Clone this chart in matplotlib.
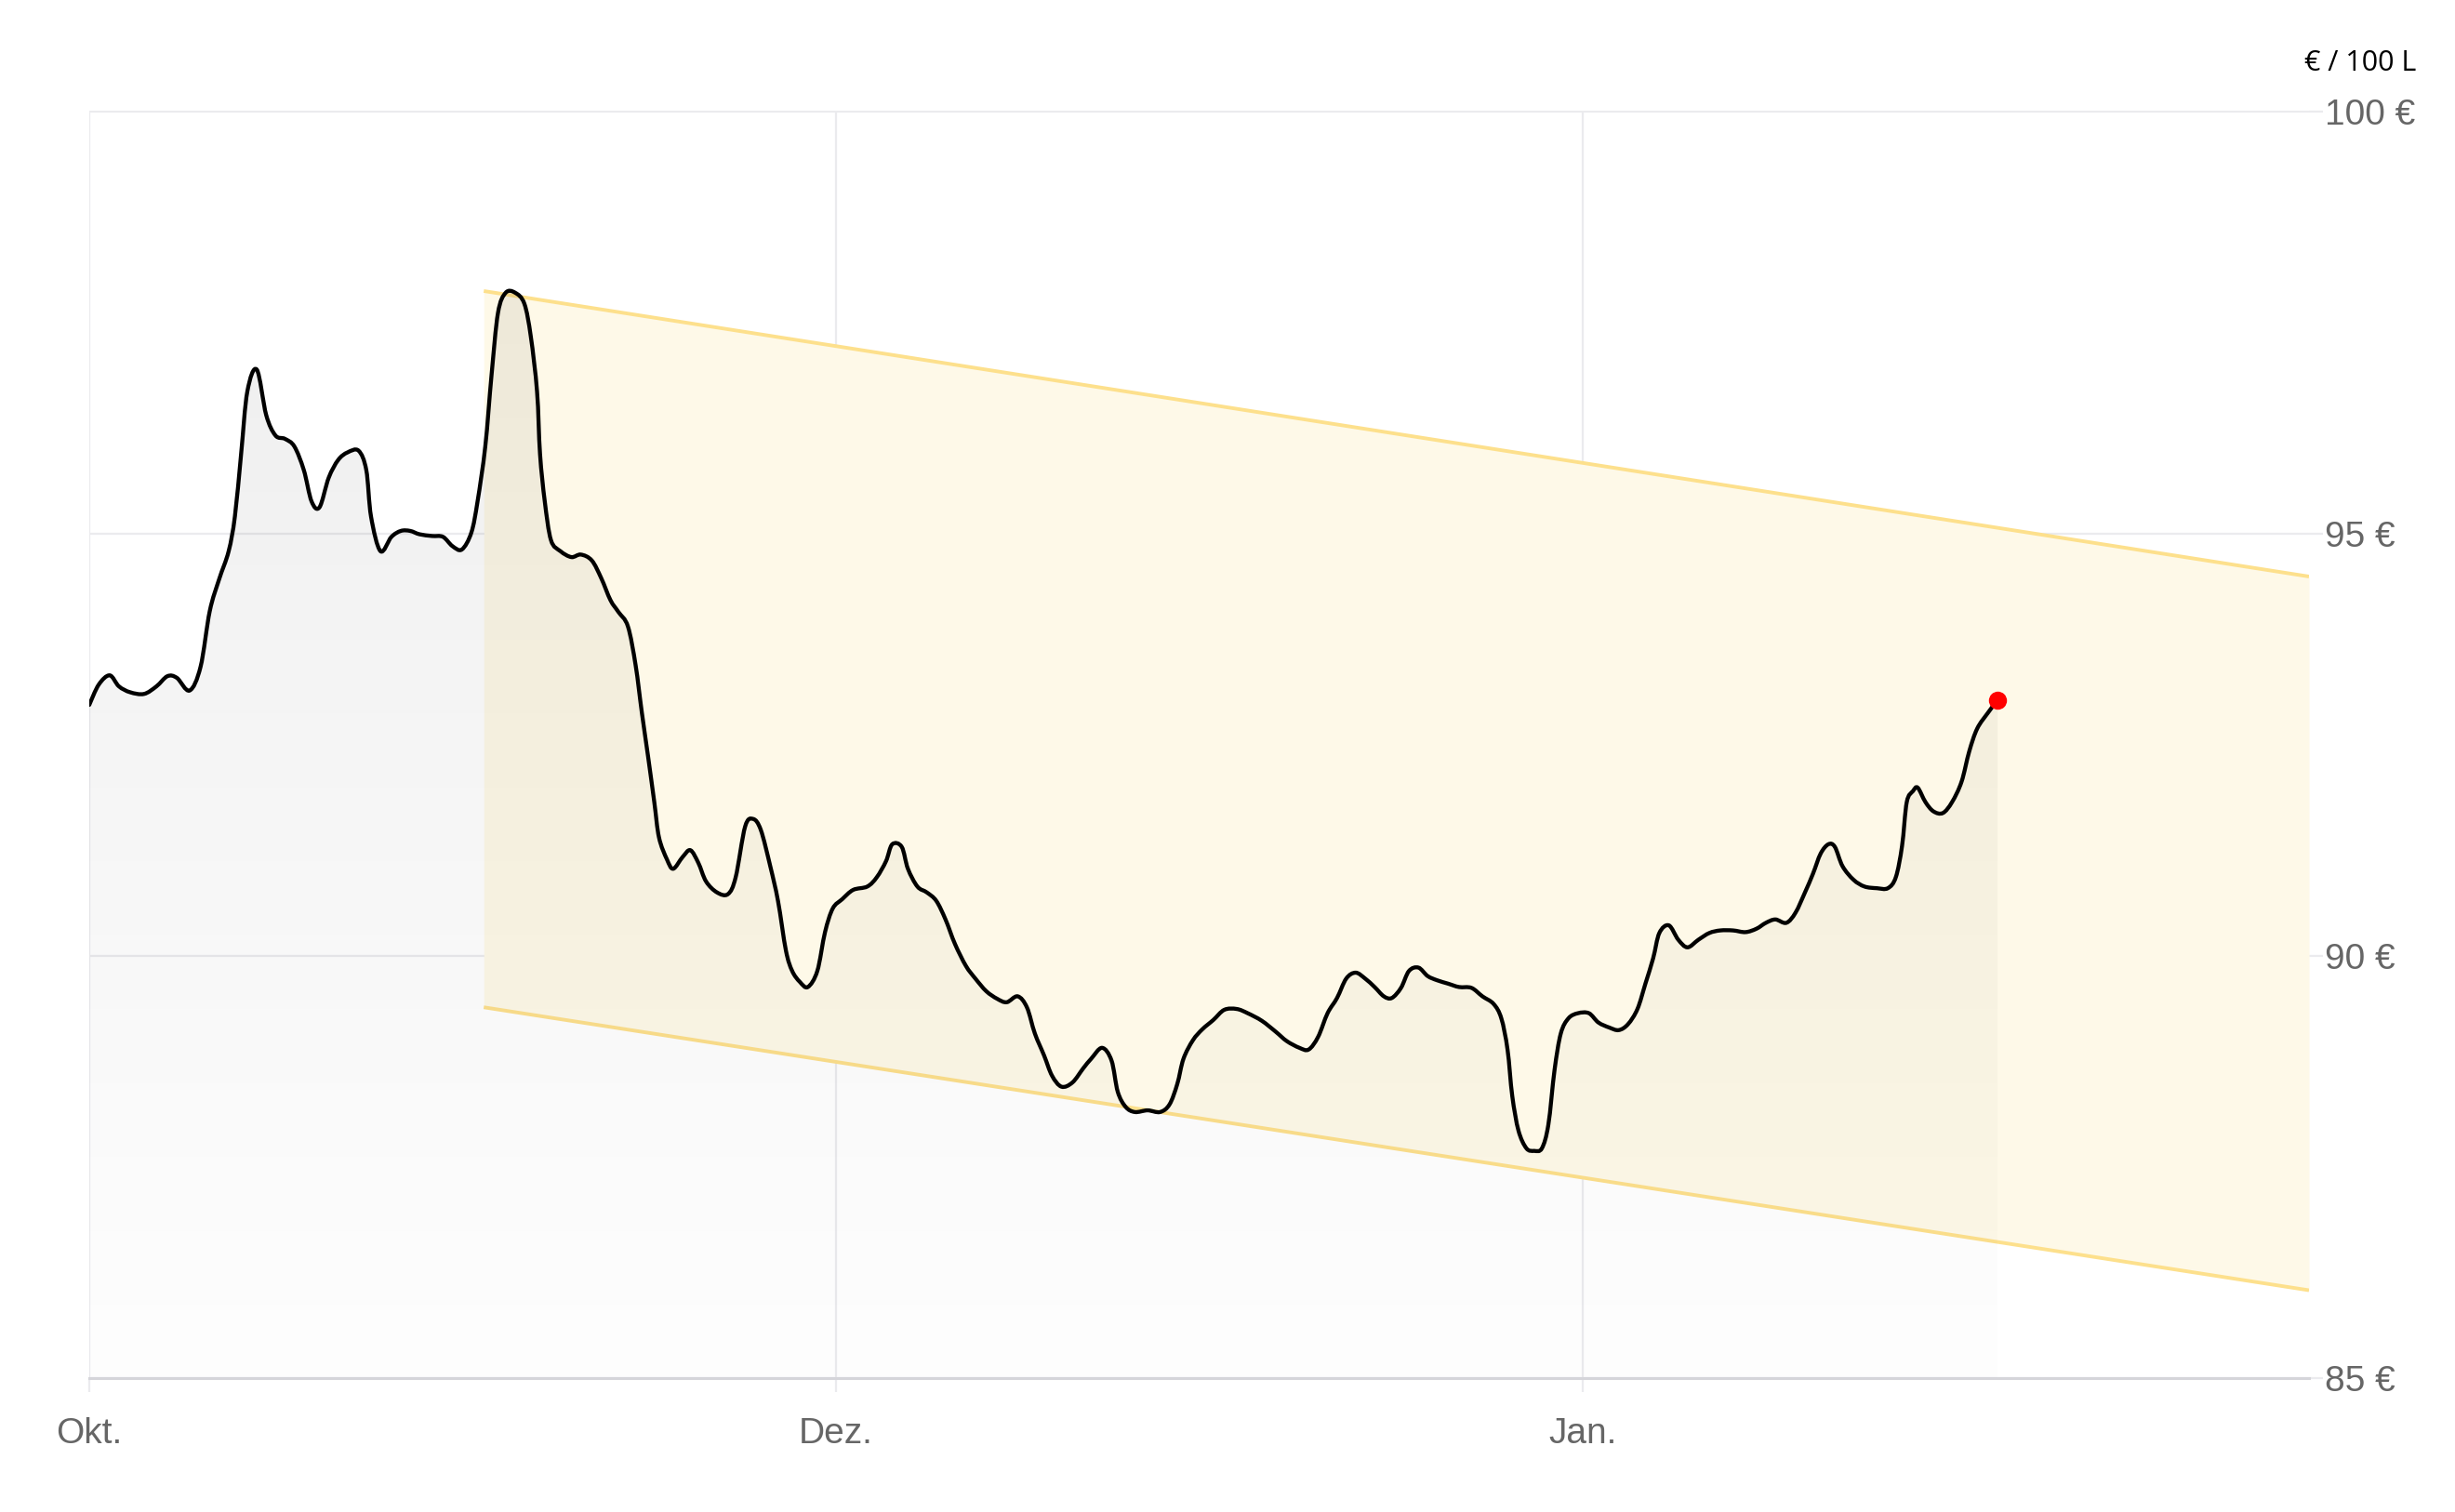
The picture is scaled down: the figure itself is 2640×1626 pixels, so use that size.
import numpy as np
import matplotlib
matplotlib.use("Agg")
import matplotlib.pyplot as plt
from matplotlib.path import Path
from matplotlib.patches import PathPatch

# x = days from the "Okt." tick (ticks are evenly spaced, 30 days apart)
DAYS = [
    0.00, 0.38, 0.82, 1.19, 1.64, 2.20, 2.70, 3.14, 3.52, 4.03, 4.47, 4.84, 5.22,
    5.60, 5.85, 6.10, 6.35, 6.73, 7.11, 7.48, 7.86, 8.24, 8.62, 8.93, 9.25, 9.62,
    10.00, 10.38, 10.82, 11.13, 11.32, 11.70, 12.14, 12.52, 12.89, 13.27, 13.77,
    14.21, 14.59, 14.97, 15.35, 15.60, 15.91, 16.16, 16.42, 16.73, 17.11, 17.48,
    17.74, 17.99, 18.11, 18.30, 18.55, 18.93, 19.37, 19.75, 20.19, 20.57, 20.94,
    21.26, 21.64, 21.95, 22.20, 22.45, 22.70, 22.89, 23.21, 23.46, 23.84, 24.15,
    24.47, 24.78, 25.22, 25.66, 25.97, 26.35, 26.67, 26.98, 27.36, 27.67, 27.99,
    28.24, 28.55, 28.87, 29.25, 29.56, 29.87, 30.25, 30.69, 31.26, 31.64, 32.01,
    32.26, 32.64, 32.89, 33.27, 33.65, 34.03, 34.40, 34.78, 35.22, 35.60, 36.04,
    36.48, 36.86, 37.30, 37.67, 37.99, 38.36, 38.68, 39.06, 39.50, 39.94, 40.25,
    40.69, 41.07, 41.32, 41.64, 42.01, 42.52, 43.02, 43.40, 43.71, 43.96, 44.34,
    44.72, 45.16, 45.60, 46.10, 46.54, 47.11, 47.67, 48.11, 48.62, 48.99, 49.37,
    49.75, 50.13, 50.50, 50.88, 51.26, 51.64, 52.01, 52.33, 52.70, 53.02, 53.40,
    53.77, 54.15, 54.59, 55.03, 55.53, 55.97, 56.42, 56.73, 56.98, 57.17, 57.42,
    57.74, 58.05, 58.36, 58.62, 58.87, 59.12, 59.43, 59.81, 60.25, 60.63, 61.07,
    61.45, 61.82, 62.20, 62.52, 62.83, 63.08, 63.46, 63.84, 64.21, 64.65, 65.09,
    65.53, 66.04, 66.54, 66.98, 67.36, 67.74, 68.18, 68.55, 68.93, 69.25, 69.56,
    69.87, 70.13, 70.44, 70.88, 71.32, 71.82, 72.26, 72.58, 72.83, 73.02, 73.27,
    73.46, 73.77, 74.09, 74.47, 74.84, 75.22, 75.53, 75.85, 76.29, 76.67,
]
PRICE = [
    92.97, 93.21, 93.32, 93.19, 93.12, 93.10, 93.19, 93.31, 93.29, 93.14, 93.42, 94.08, 94.46,
    94.79, 95.20, 95.94, 96.68, 96.94, 96.40, 96.16, 96.12, 96.03, 95.75, 95.38, 95.31, 95.66,
    95.87, 95.96, 95.98, 95.75, 95.20, 94.79, 94.96, 95.03, 95.03, 94.99, 94.97,
    94.96, 94.85, 94.81, 95.01, 95.38, 96.03, 96.87, 97.61, 97.85, 97.85, 97.72,
    97.33, 96.68, 95.94, 95.38, 94.92, 94.79, 94.72, 94.75, 94.68, 94.47, 94.21,
    94.07, 93.90, 93.44, 92.88, 92.36, 91.82, 91.40, 91.14, 91.03, 91.17, 91.25,
    91.10, 90.88, 90.75, 90.73, 90.93, 91.53, 91.62, 91.49, 91.06, 90.65, 90.06,
    89.82, 89.69, 89.63, 89.82, 90.28, 90.56, 90.67, 90.78, 90.82, 90.93, 91.12,
    91.32, 91.29, 91.03, 90.82, 90.75, 90.65, 90.43, 90.14, 89.88, 89.73, 89.58,
    89.49, 89.45, 89.52, 89.39, 89.08, 88.82, 88.58, 88.45, 88.50, 88.67, 88.78,
    88.91, 88.76, 88.39, 88.21, 88.15, 88.17, 88.15, 88.24, 88.48, 88.78, 89.00,
    89.13, 89.24, 89.36, 89.37, 89.32, 89.23, 89.10, 88.99, 88.91, 88.89, 89.04,
    89.32, 89.50, 89.73, 89.80, 89.73, 89.63, 89.52, 89.50, 89.62, 89.82, 89.86,
    89.76, 89.71, 89.67, 89.63, 89.62, 89.52, 89.43, 89.26, 88.89, 88.34, 87.93,
    87.72, 87.69, 87.72, 88.00, 88.65, 89.08, 89.26, 89.32, 89.32, 89.21, 89.15,
    89.12, 89.19, 89.37, 89.67, 89.97, 90.27, 90.36, 90.19, 90.10, 90.19, 90.27,
    90.30, 90.30, 90.28, 90.32, 90.39, 90.43, 90.39, 90.51, 90.75, 90.97, 91.21,
    91.32, 91.29, 91.06, 90.90, 90.82, 90.80, 90.80, 90.93, 91.30, 91.82, 91.95,
    91.99, 91.82, 91.71, 91.69, 91.82, 92.06, 92.42, 92.69, 92.88, 93.03,
]

# trend channel (start / end)
CHAN_X = [15.85, 89.18]
CHAN_HI = [97.87, 94.49]
CHAN_LO = [89.39, 86.04]

MONTH_POS = [0, 30, 60]
MONTH_LABELS = ["Okt.", "Dez.", "Jan."]
Y_TICKS = [85, 90, 95, 100]
UNIT = "€ / 100 L"


def smooth_path(px, py):
    """Catmull-Rom through the points, drawn as cubic Bezier segments."""
    pts = np.column_stack([px, py])
    ext = np.vstack([pts[0], pts, pts[-1]])
    verts = [pts[0]]
    codes = [Path.MOVETO]
    for i in range(len(pts) - 1):
        p0, p1, p2, p3 = ext[i], ext[i + 1], ext[i + 2], ext[i + 3]
        verts += [p1 + (p2 - p0) / 6, p2 - (p3 - p1) / 6, p2]
        codes += [Path.CURVE4] * 3
    return np.array(verts), codes


W, H = 2640, 1626
fig = plt.figure(figsize=(W / 100, H / 100), dpi=100)
ax = fig.add_axes([96 / W, 1 - 1482 / H, (2483 - 96) / W, (1482 - 119.5) / H])
ax.set_xlim(0, CHAN_X[1])
ax.set_ylim(85, 100)

x = np.array(DAYS)
y = np.array(PRICE)
verts, codes = smooth_path(x, y)

# trend channel
ax.fill_between(CHAN_X, CHAN_LO, CHAN_HI, color="#fef9e8", lw=0, zorder=1)
ax.plot(CHAN_X, CHAN_HI, color="#fde08c", lw=2.8, zorder=2, solid_capstyle="butt")
ax.plot(CHAN_X, CHAN_LO, color="#fde08c", lw=2.8, zorder=2, solid_capstyle="butt")

# gray gradient area under the price line
area_verts = np.vstack([[x[0], 85], verts, [x[-1], 85], [x[0], 85]])
area_codes = [Path.MOVETO, Path.LINETO] + codes[1:] + [Path.LINETO, Path.CLOSEPOLY]
area = PathPatch(Path(area_verts, area_codes), facecolor="none", lw=0)
ax.add_patch(area)
grad = np.zeros((256, 1, 4))
grad[:, 0, 3] = np.linspace(0.075, 0.008, 256)
img = ax.imshow(grad, extent=[0, CHAN_X[1], 85, 100], aspect="auto",
                origin="upper", zorder=3, interpolation="bilinear")
img.set_clip_path(area)

# price line + last point
line = PathPatch(Path(verts, codes), facecolor="none", edgecolor="black",
                 lw=3.1, zorder=5, joinstyle="round", capstyle="round")
ax.add_patch(line)
ax.plot(x[-1], y[-1], "o", color="#ff0000", ms=14, mec="none", zorder=6)

# grids / axes styling
for s in ["left", "right", "top"]:
    ax.spines[s].set_visible(False)
ax.spines["bottom"].set_color("#d5d5da")
ax.spines["bottom"].set_linewidth(2.2)
ax.spines["bottom"].set_zorder(4)
ax.grid(True, color="#ebebee", lw=1.6, zorder=0)
ax.set_axisbelow(True)

ax.yaxis.tick_right()
ax.set_yticks(Y_TICKS)
ax.set_yticklabels([f"{v} €" for v in Y_TICKS])
ax.tick_params(axis="y", length=11, width=1.6, color="#ebebee", pad=1,
               labelsize=28, labelcolor="#666666")
ax.set_xticks(MONTH_POS)
ax.set_xticklabels(MONTH_LABELS)
ax.tick_params(axis="x", length=11, width=1.6, color="#ebebee", pad=19,
               labelsize=28, labelcolor="#666666")
for lbl in ax.get_xticklabels() + ax.get_yticklabels():
    lbl.set_family(["Liberation Sans", "DejaVu Sans"])
    lbl.set_va("center_baseline") if lbl in ax.get_yticklabels() else None

fig.text(2598 / W, 1 - 68 / H, UNIT, ha="right", va="center", fontsize=22,
         color="black", family=["Open Sans", "DejaVu Sans"])

fig.savefig("out.png", dpi=100, facecolor="white")
